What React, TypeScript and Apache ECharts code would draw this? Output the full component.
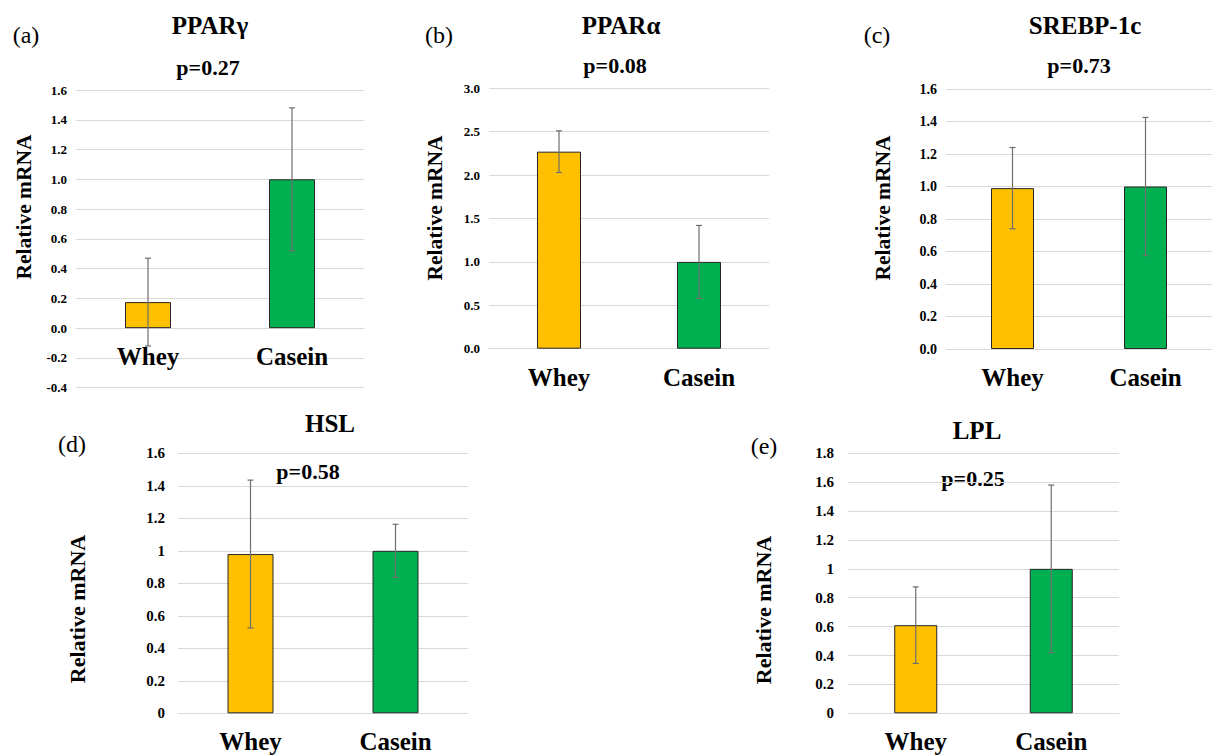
import React, { useEffect, useRef } from "react";
import * as echarts from "echarts";

// ---- data ----
const categories = ["Whey", "Casein"];

const pparGammaMean = [0.175, 1.0];
const pparGammaErr = [0.295, 0.48];

const pparAlphaMean = [2.27, 1.0];
const pparAlphaErr = [0.24, 0.42];

const srebpMean = [0.99, 1.0];
const srebpErr = [0.25, 0.425];

const hslMean = [0.98, 1.0];
const hslErr = [0.455, 0.163];

const lplMean = [0.61, 1.0];
const lplErr = [0.265, 0.58];

const panelTitles = ["PPARγ", "PPARα", "SREBP-1c", "HSL", "LPL"];
const panelLetters = ["(a)", "(b)", "(c)", "(d)", "(e)"];
const pValues = ["p=0.27", "p=0.08", "p=0.73", "p=0.58", "p=0.25"];
const yLabel = "Relative mRNA";

// y-axis scales [min, max, interval]
const yScales: [number, number, number][] = [
  [-0.4, 1.6, 0.2],
  [0, 3.0, 0.5],
  [0, 1.6, 0.2],
  [0, 1.6, 0.2],
  [0, 1.8, 0.2],
];
const tickFormats = ["fixed", "fixed", "fixed", "plain", "plain"];

const means = [pparGammaMean, pparAlphaMean, srebpMean, hslMean, lplMean];
const errs = [pparGammaErr, pparAlphaErr, srebpErr, hslErr, lplErr];

// ---- layout (pixels) ----
const layout = [
  { left: 76, top: 90, width: 288, height: 297.7, barWidth: 46, tickSize: 13, tickMargin: 9, yLabFont: 21.5,
    letter: [26, 35], title: [210, 25], p: [208, 67], ylab: [24, 207] },
  { left: 489, top: 88.3, width: 280, height: 260.4, barWidth: 44, tickSize: 13, tickMargin: 9, yLabFont: 21.5,
    letter: [439, 35], title: [621, 25], p: [615, 65], ylab: [435, 208] },
  { left: 946, top: 89, width: 278, height: 260, barWidth: 43, tickSize: 14, tickMargin: 9, yLabFont: 21.5,
    letter: [877, 35], title: [1085, 25], p: [1079, 65], ylab: [883, 208] },
  { left: 178, top: 453.3, width: 290, height: 260, barWidth: 46, tickSize: 15, tickMargin: 13, yLabFont: 22,
    letter: [72, 444], title: [330, 423.5], p: [308, 471], ylab: [77, 609] },
  { left: 848, top: 453.3, width: 271, height: 260, barWidth: 43, tickSize: 15, tickMargin: 14, yLabFont: 22,
    letter: [764, 446], title: [977, 430.5], p: [973, 478], ylab: [763, 610] },
];

const FONT = "'Liberation Serif', 'Times New Roman', serif";
const BAR_COLORS = ["#FFC000", "#00B050"];
const GRID_COLOR = "#D9D9D9";
const ERR_COLOR = "#6E6E6E";

export default function App() {
  const ref = useRef<HTMLDivElement>(null);

  useEffect(() => {
    if (!ref.current) return;
    const chart = echarts.init(ref.current, null, { renderer: "svg" });

    const grids: any[] = [];
    const xAxes: any[] = [];
    const yAxes: any[] = [];
    const series: any[] = [];
    const graphics: any[] = [];

    layout.forEach((L, i) => {
      const [mn, mx, iv] = yScales[i];
      // move the category axis up to the zero line (Excel-style crossing at 0)
      const zeroOffset = mn < 0 ? -(L.height * (0 - mn)) / (mx - mn) : 0;
      grids.push({ left: L.left, top: L.top, width: L.width, height: L.height, containLabel: false });
      xAxes.push({
        type: "category",
        gridIndex: i,
        data: categories,
        offset: zeroOffset,
        axisLine: { show: true, onZero: false, lineStyle: { color: GRID_COLOR, width: 1 } },
        axisTick: { show: false },
        axisLabel: {
          interval: 0,
          margin: 16,
          fontFamily: FONT,
          fontWeight: "bold",
          fontSize: 25,
          color: "#000",
        },
      });
      const fmt = tickFormats[i];
      yAxes.push({
        type: "value",
        gridIndex: i,
        min: mn,
        max: mx,
        interval: iv,
        axisLine: { show: false },
        axisTick: { show: false },
        splitLine: { show: true, lineStyle: { color: GRID_COLOR, width: 1 } },
        axisLabel: {
          margin: L.tickMargin,
          fontFamily: FONT,
          fontWeight: "bold",
          fontSize: L.tickSize,
          color: "#000",
          formatter: (v: number) =>
            fmt === "fixed" ? (Math.round(v * 10) / 10).toFixed(1) : String(Math.round(v * 10) / 10),
        },
      });
      series.push({
        type: "bar",
        xAxisIndex: i,
        yAxisIndex: i,
        barWidth: L.barWidth,
        data: means[i].map((m, j) => ({
          value: m,
          itemStyle: { color: BAR_COLORS[j], borderColor: "#262626", borderWidth: 1 },
        })),
      });
      series.push({
        type: "custom",
        xAxisIndex: i,
        yAxisIndex: i,
        z: 10,
        encode: { x: 0, y: [1, 2] },
        data: means[i].map((m, j) => [j, m - errs[i][j], m + errs[i][j]]),
        renderItem: (params: any, api: any) => {
          const x = api.value(0);
          const pLo = api.coord([x, api.value(1)]);
          const pHi = api.coord([x, api.value(2)]);
          const hw = 3;
          const style = { stroke: ERR_COLOR, lineWidth: 1.2 };
          return {
            type: "group",
            children: [
              { type: "line", shape: { x1: pHi[0], y1: pHi[1], x2: pLo[0], y2: pLo[1] }, style },
              { type: "line", shape: { x1: pHi[0] - hw, y1: pHi[1], x2: pHi[0] + hw, y2: pHi[1] }, style },
              { type: "line", shape: { x1: pLo[0] - hw, y1: pLo[1], x2: pLo[0] + hw, y2: pLo[1] }, style },
            ],
          };
        },
      });

      graphics.push({
        type: "text",
        x: L.letter[0],
        y: L.letter[1],
        style: { text: panelLetters[i], fontFamily: FONT, fontSize: 24, fill: "#000", textAlign: "center", textVerticalAlign: "middle" },
      });
      graphics.push({
        type: "text",
        x: L.title[0],
        y: L.title[1],
        style: { text: panelTitles[i], fontFamily: FONT, fontWeight: "bold", fontSize: 25, fill: "#000", textAlign: "center", textVerticalAlign: "middle" },
      });
      graphics.push({
        type: "text",
        x: L.p[0],
        y: L.p[1],
        style: { text: pValues[i], fontFamily: FONT, fontWeight: "bold", fontSize: 22, fill: "#000", textAlign: "center", textVerticalAlign: "middle" },
      });
      graphics.push({
        type: "text",
        x: L.ylab[0],
        y: L.ylab[1],
        rotation: Math.PI / 2,
        style: { text: yLabel, fontFamily: FONT, fontWeight: "bold", fontSize: L.yLabFont, fill: "#000", textAlign: "center", textVerticalAlign: "middle" },
      });
    });

    chart.setOption({
      animation: false,
      backgroundColor: "#fff",
      grid: grids,
      xAxis: xAxes,
      yAxis: yAxes,
      series,
      graphic: graphics,
    });

    return () => chart.dispose();
  }, []);

  return (
    <div
      ref={ref}
      style={{ position: "fixed", left: 0, top: 0, width: 1212, height: 756, background: "#fff" }}
    />
  );
}
